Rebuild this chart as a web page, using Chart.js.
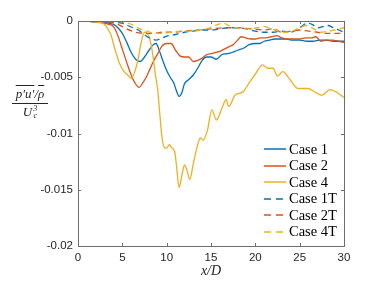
<!DOCTYPE html>
<html>
<head>
  <title>Energy flux along x/D</title>
  <style>
    body { margin: 0; background: #fff; }
    #wrap { position: relative; width: 376px; height: 282px; }
    #ylab { position: absolute; left: 12px; top: 87px; width: 36px; text-align: center;
            font-family: 'Liberation Serif', serif; font-style: italic; font-size: 13px; color: #262626; line-height: 14px; }
    #ylab .num { border-bottom: 1px solid #262626; padding-bottom: 2px; }
    #ylab .den { padding-top: 1px; }
    .ol { text-decoration: overline; }
    .stk { display: inline-flex; flex-direction: column; font-size: 8px; line-height: 7px; vertical-align: 5px; margin-left: 1px; }
    #xlab { position: absolute; left: 196px; top: 263px; width: 30px; text-align: center;
            font-family: 'Liberation Serif', serif; font-style: italic; font-size: 14px; color: #262626; }
    #legend { position: absolute; left: 264px; top: 141px; font-family: 'Liberation Serif', serif; font-size: 14.5px; color: #000; }
    #legend .row { height: 16.5px; display: flex; align-items: center; }
    #legend svg { margin-right: 3px; }
  </style>
  <script src="https://cdn.jsdelivr.net/npm/chart.js"></script>
</head>
<body>
  <div id="wrap">
    <canvas id="chart"></canvas>
    <div id="ylab">
      <div class="num"><span class="ol">p′u′</span>/<span class="ol">ρ</span></div>
      <div class="den">U<span class="stk"><span>3</span><span>c</span></span></div>
    </div>
    <div id="xlab">x/D</div>
    <div id="legend"></div>
  </div>
  <script>
    const seriesNames = ['Case 1', 'Case 2', 'Case 4', 'Case 1T', 'Case 2T', 'Case 4T'];
    const xTicks = [0, 5, 10, 15, 20, 25, 30];
    const yTicks = [0, -0.005, -0.01, -0.015, -0.02];
    const yTickLabels = ['0', '-0.005', '-0.01', '-0.015', '-0.02'];

    const case1X = [0, 1, 2, 3, 3.5, 4, 4.5, 5, 5.5, 6, 6.5, 7, 7.5, 8, 8.5, 8.8, 9.2, 9.6, 10, 10.4, 10.8, 11.1, 11.4, 11.7, 12, 12.5, 13, 13.5, 14, 14.5, 15, 15.6, 16.2, 16.8, 17.4, 18, 18.7, 19.3, 20, 20.5, 21, 21.6, 22.2, 22.8, 23.5, 24.2, 25, 25.8, 26.5, 27.3, 28, 28.8, 29.5, 30];
    const case1Y = [0, 0, -0.0001, -0.0001, -0.0002, -0.0003, -0.0006, -0.0011, -0.0019, -0.0028, -0.0034, -0.0036, -0.0032, -0.0026, -0.0021, -0.0020, -0.0027, -0.0036, -0.0044, -0.0050, -0.0055, -0.0062, -0.0067, -0.0064, -0.0056, -0.0052, -0.0048, -0.0042, -0.0035, -0.0032, -0.0032, -0.0034, -0.0030, -0.0029, -0.0028, -0.0026, -0.0024, -0.0021, -0.0020, -0.0020, -0.0018, -0.0017, -0.0016, -0.0016, -0.0016, -0.0017, -0.0017, -0.0018, -0.0018, -0.0017, -0.0017, -0.0018, -0.0018, -0.0018];

    const case2X = [0, 1, 2, 3, 3.5, 4, 4.5, 5, 5.5, 6, 6.5, 6.9, 7.3, 7.7, 8.1, 8.5, 9, 9.5, 10, 10.5, 11, 11.5, 12, 12.5, 13, 13.5, 14, 14.5, 15, 15.5, 16, 16.5, 17, 17.5, 18, 18.4, 18.9, 19.5, 20, 20.6, 21.2, 21.8, 22.4, 23, 23.6, 24.2, 25, 25.7, 26.3, 26.8, 27.4, 28, 28.7, 29.4, 30];
    const case2Y = [0, 0, -0.0001, -0.0002, -0.0003, -0.0005, -0.0013, -0.0025, -0.0037, -0.0048, -0.0056, -0.0059, -0.0055, -0.0050, -0.0043, -0.0036, -0.0029, -0.0022, -0.0020, -0.0020, -0.0026, -0.0031, -0.0032, -0.0032, -0.0036, -0.0035, -0.0033, -0.0030, -0.0029, -0.0028, -0.0027, -0.0025, -0.0023, -0.0021, -0.0017, -0.0014, -0.0015, -0.0016, -0.0016, -0.0015, -0.0015, -0.0014, -0.0013, -0.0015, -0.0016, -0.0016, -0.0016, -0.0015, -0.0015, -0.0014, -0.0018, -0.0017, -0.0017, -0.0018, -0.0019];

    const case4X = [0, 1, 2, 2.8, 3.2, 3.7, 4.2, 4.7, 5.2, 5.6, 6, 6.4, 6.8, 7.1, 7.5, 7.8, 8.1, 8.4, 8.7, 9, 9.2, 9.45, 9.7, 10, 10.3, 10.6, 10.9, 11.1, 11.4, 11.7, 12, 12.3, 12.6, 13, 13.4, 13.8, 14.1, 14.6, 15.1, 15.6, 16.3, 16.7, 17, 17.7, 18.6, 19.3, 20.1, 20.8, 21.4, 22, 22.5, 23.1, 23.9, 24.8, 25.9, 26.5, 27.5, 28.4, 29.1, 30];
    const case4Y = [0, 0, -0.0001, -0.0002, -0.0005, -0.0012, -0.0026, -0.0038, -0.0045, -0.0048, -0.0051, -0.0045, -0.0033, -0.0020, -0.0010, -0.0011, -0.0016, -0.0028, -0.0046, -0.0062, -0.0080, -0.0102, -0.0112, -0.0113, -0.0110, -0.0113, -0.0116, -0.0128, -0.0148, -0.0138, -0.0128, -0.0133, -0.0141, -0.0127, -0.0113, -0.0104, -0.0106, -0.0097, -0.0079, -0.0088, -0.0076, -0.0070, -0.0076, -0.0066, -0.0063, -0.0055, -0.0046, -0.0039, -0.0042, -0.0042, -0.0049, -0.0045, -0.0052, -0.0060, -0.0060, -0.0062, -0.0066, -0.0061, -0.0063, -0.0068];

    const case1TX = [0, 2, 4, 5, 5.6, 6.2, 6.8, 7.3, 7.8, 8.3, 8.8, 9.5, 10.2, 11, 12, 13, 14, 15, 16, 17, 18, 19, 20, 21, 22, 23, 24, 24.6, 25.2, 25.8, 26.4, 27, 27.6, 28.2, 28.8, 29.4, 30];
    const case1TY = [0, 0, -0.0001, -0.0002, -0.0004, -0.0006, -0.0008, -0.0011, -0.0014, -0.0016, -0.0017, -0.0015, -0.0013, -0.0012, -0.0010, -0.0009, -0.0008, -0.0008, -0.0007, -0.0006, -0.0006, -0.0007, -0.0009, -0.0010, -0.0010, -0.0009, -0.0010, -0.0008, -0.0005, -0.0002, -0.0003, -0.0006, -0.0005, -0.0004, -0.0006, -0.0008, -0.0010];

    const case2TX = [0, 2, 3.5, 4.5, 5.5, 6.5, 7.5, 8.5, 9.5, 10.5, 12, 13.5, 15, 16.5, 18, 19.5, 21, 22, 23, 24, 25, 26, 27, 28, 29, 30];
    const case2TY = [0, 0, -0.0001, -0.0003, -0.0007, -0.0010, -0.0011, -0.0011, -0.0010, -0.0010, -0.0009, -0.0008, -0.0007, -0.0006, -0.0006, -0.0007, -0.0008, -0.0007, -0.0010, -0.0009, -0.0008, -0.0009, -0.0010, -0.0011, -0.0011, -0.0011];

    const case4TX = [0, 2, 4, 5, 5.7, 6.3, 7, 7.8, 8.6, 9.5, 10.5, 11.5, 12.5, 13.5, 14.5, 15.2, 15.8, 16.4, 17, 17.8, 18.6, 19.4, 20.2, 21, 21.8, 22.6, 23.4, 24.2, 25, 25.8, 26.6, 27.4, 28.2, 29, 30];
    const case4TY = [0, 0, 0, -0.0001, -0.0002, -0.0004, -0.0007, -0.0009, -0.0011, -0.0011, -0.0010, -0.0009, -0.0009, -0.0008, -0.0007, -0.0005, -0.0003, -0.0002, -0.0004, -0.0006, -0.0007, -0.0007, -0.0006, -0.0005, -0.0007, -0.0009, -0.0010, -0.0009, -0.0006, -0.0004, -0.0007, -0.0010, -0.0009, -0.0008, -0.0006];

    const blue = '#0072BD', red = '#D95319', yellow = '#EDB120';
    const xs = [case1X, case2X, case4X, case1TX, case2TX, case4TX];
    const ys = [case1Y, case2Y, case4Y, case1TY, case2TY, case4TY];
    const colors = [blue, red, yellow, blue, red, yellow];

    const datasets = seriesNames.map((name, i) => ({
      label: name,
      data: xs[i].map((x, k) => ({x: x, y: ys[i][k]})),
      borderColor: colors[i],
      borderWidth: 1.3,
      borderDash: i >= 3 ? [6, 4] : [],
      pointRadius: 0,
      cubicInterpolationMode: 'monotone',
      fill: false,
      order: 6 - i
    }));

    // box around the plot + inward ticks on all four sides
    const boxTicks = {
      id: 'boxTicks',
      afterDraw(chart) {
        const ctx = chart.ctx, a = chart.chartArea;
        const sx = chart.scales.x, sy = chart.scales.y;
        ctx.save();
        ctx.strokeStyle = '#6e6e6e';
        ctx.lineWidth = 1;
        ctx.strokeRect(Math.round(a.left) + 0.5, Math.round(a.top) + 0.5,
                       Math.round(a.right - a.left), Math.round(a.bottom - a.top));
        ctx.beginPath();
        xTicks.forEach(v => {
          const px = Math.round(sx.getPixelForValue(v)) + 0.5;
          ctx.moveTo(px, a.bottom); ctx.lineTo(px, a.bottom - 3);
          ctx.moveTo(px, a.top); ctx.lineTo(px, a.top + 3);
        });
        yTicks.forEach(v => {
          const py = Math.round(sy.getPixelForValue(v)) + 0.5;
          ctx.moveTo(a.left, py); ctx.lineTo(a.left + 3, py);
          ctx.moveTo(a.right, py); ctx.lineTo(a.right - 3, py);
        });
        ctx.stroke();
        ctx.restore();
      }
    };

    const chart = new Chart(document.getElementById('chart'), {
      type: 'line',
      data: {datasets: datasets},
      options: {
        responsive: true,
        maintainAspectRatio: false,
        animation: false,
        layout: {padding: {top: 21, right: 32, left: 0, bottom: 0}},
        plugins: {legend: {display: false}, tooltip: {enabled: false}},
        scales: {
          x: {
            type: 'linear', min: 0, max: 30,
            afterFit: s => { s.height = 36; },
            afterBuildTicks: s => { s.ticks = xTicks.map(v => ({value: v})); },
            grid: {display: false, drawTicks: false},
            border: {display: false},
            ticks: {padding: 5, color: '#262626', font: {family: 'Liberation Sans', size: 11.5}, maxRotation: 0}
          },
          y: {
            type: 'linear', min: -0.02, max: 0,
            afterFit: s => { s.width = 78; },
            afterBuildTicks: s => { s.ticks = yTicks.map(v => ({value: v})); },
            grid: {display: false, drawTicks: false},
            border: {display: false},
            ticks: {
              padding: 5, color: '#262626', font: {family: 'Liberation Sans', size: 11.5},
              callback: v => yTickLabels[yTicks.findIndex(t => Math.abs(t - v) < 1e-9)]
            }
          }
        }
      },
      plugins: [boxTicks]
    });

    // legend inside the axes, bottom right
    const legend = document.getElementById('legend');
    chart.data.datasets.forEach(ds => {
      const row = document.createElement('div');
      row.className = 'row';
      const dash = ds.borderDash.length ? 'stroke-dasharray="7 5"' : '';
      row.innerHTML = '<svg width="22" height="4"><line x1="0" y1="2" x2="22" y2="2" stroke="' +
        ds.borderColor + '" stroke-width="1.5" ' + dash + '/></svg><span>' + ds.label + '</span>';
      legend.appendChild(row);
    });
  </script>
</body>
</html>
